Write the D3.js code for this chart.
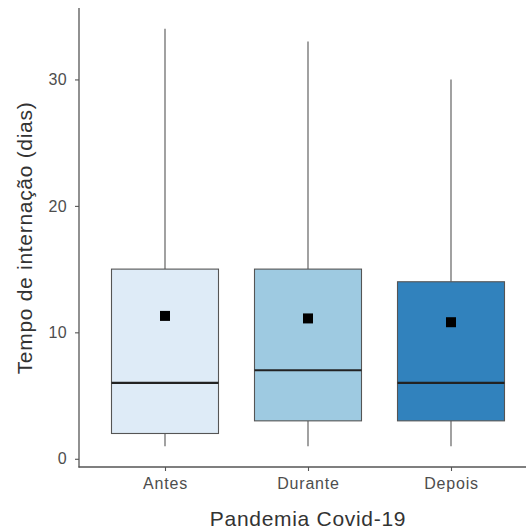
<!DOCTYPE html>
<html>
<head>
  <meta charset="UTF-8">
  <style>
    body { margin: 0; background: #fff; }
    text { font-family: "Liberation Sans", Arial, sans-serif; }
  </style>
</head>
<body>
  <svg></svg>
  <script src="https://d3js.org/d3.v7.min.js"></script>
  <script>
    let width = 526, height = 530;

    // box plot stats per period
    let categories = ["Antes", "Durante", "Depois"];
    let whiskerLow = [1, 1, 1];
    let q1 = [2, 3, 3];
    let medians = [6, 7, 6];
    let q3 = [15, 15, 14];
    let whiskerHigh = [34, 33, 30];
    let means = [11.3, 11.1, 10.8];
    let fills = ["#deebf7", "#9ecae1", "#3182bd"];
    let yTicks = [0, 10, 20, 30];

    let svg = d3.select("svg")
      .attr("width", width)
      .attr("height", height);

    let y = d3.scaleLinear().domain([-0.65, 35.65]).range([467, 8]);
    let x = d3.scalePoint().domain(categories).range([165, 451]);
    let boxW = 107;

    let data = categories.map((c, i) => ({
      cat: c, lo: whiskerLow[i], q1: q1[i], med: medians[i],
      q3: q3[i], hi: whiskerHigh[i], mean: means[i], fill: fills[i]
    }));

    let g = svg.append("g");

    let box = g.selectAll("g.box")
      .data(data)
      .enter()
      .append("g")
      .attr("class", "box");

    // whiskers
    box.append("line")
      .attr("x1", d => x(d.cat)).attr("x2", d => x(d.cat))
      .attr("y1", d => y(d.q3)).attr("y2", d => y(d.hi))
      .attr("stroke", "#555").attr("stroke-width", 1.1);
    box.append("line")
      .attr("x1", d => x(d.cat)).attr("x2", d => x(d.cat))
      .attr("y1", d => y(d.q1)).attr("y2", d => y(d.lo))
      .attr("stroke", "#555").attr("stroke-width", 1.1);

    box.append("rect")
      .attr("x", d => x(d.cat) - boxW / 2)
      .attr("width", boxW)
      .attr("y", d => y(d.q3))
      .attr("height", d => y(d.q1) - y(d.q3))
      .attr("fill", d => d.fill)
      .attr("stroke", "#555")
      .attr("stroke-width", 1.1);

    box.append("line")
      .attr("x1", d => x(d.cat) - boxW / 2).attr("x2", d => x(d.cat) + boxW / 2)
      .attr("y1", d => y(d.med)).attr("y2", d => y(d.med))
      .attr("stroke", "#222").attr("stroke-width", 2.2);

    // mean marker
    box.append("rect")
      .attr("x", d => x(d.cat) - 5)
      .attr("y", d => y(d.mean) - 5)
      .attr("width", 10).attr("height", 10)
      .attr("fill", "#000");

    // axes
    let yAxis = d3.axisLeft(y).tickValues(yTicks).tickSize(4).tickPadding(8);
    let yg = svg.append("g")
      .attr("transform", "translate(79,0)")
      .call(yAxis);
    yg.select(".domain").remove();
    yg.append("line")
      .attr("x1", 0).attr("x2", 0).attr("y1", 8).attr("y2", 467.5)
      .attr("stroke", "#555").attr("stroke-width", 1.3);

    let xAxis = d3.axisBottom(x).tickSize(4).tickPadding(7);
    let xg = svg.append("g")
      .attr("transform", "translate(0,467)")
      .call(xAxis);
    xg.select(".domain").remove();
    xg.append("line")
      .attr("x1", 78.5).attr("x2", width).attr("y1", 0).attr("y2", 0)
      .attr("stroke", "#555").attr("stroke-width", 1.3);

    svg.selectAll(".tick line").attr("stroke", "#555").attr("stroke-width", 1.1);
    svg.selectAll(".tick text")
      .attr("fill", "#4d4d4d")
      .style("font-size", "16px")
      .style("font-family", "Liberation Sans, Arial, sans-serif");
    xg.selectAll(".tick text").style("letter-spacing", "0.8px");
    yg.selectAll(".tick text").style("letter-spacing", "0.3px");

    svg.append("text")
      .attr("x", 308).attr("y", 526)
      .attr("text-anchor", "middle")
      .attr("fill", "#333")
      .style("font-size", "21px")
      .style("letter-spacing", "0.7px")
      .text("Pandemia Covid-19");

    svg.append("text")
      .attr("transform", "translate(32,238) rotate(-90)")
      .attr("text-anchor", "middle")
      .attr("fill", "#333")
      .style("font-size", "21px")
      .style("letter-spacing", "0.7px")
      .text("Tempo de internação (dias)");
  </script>
</body>
</html>
